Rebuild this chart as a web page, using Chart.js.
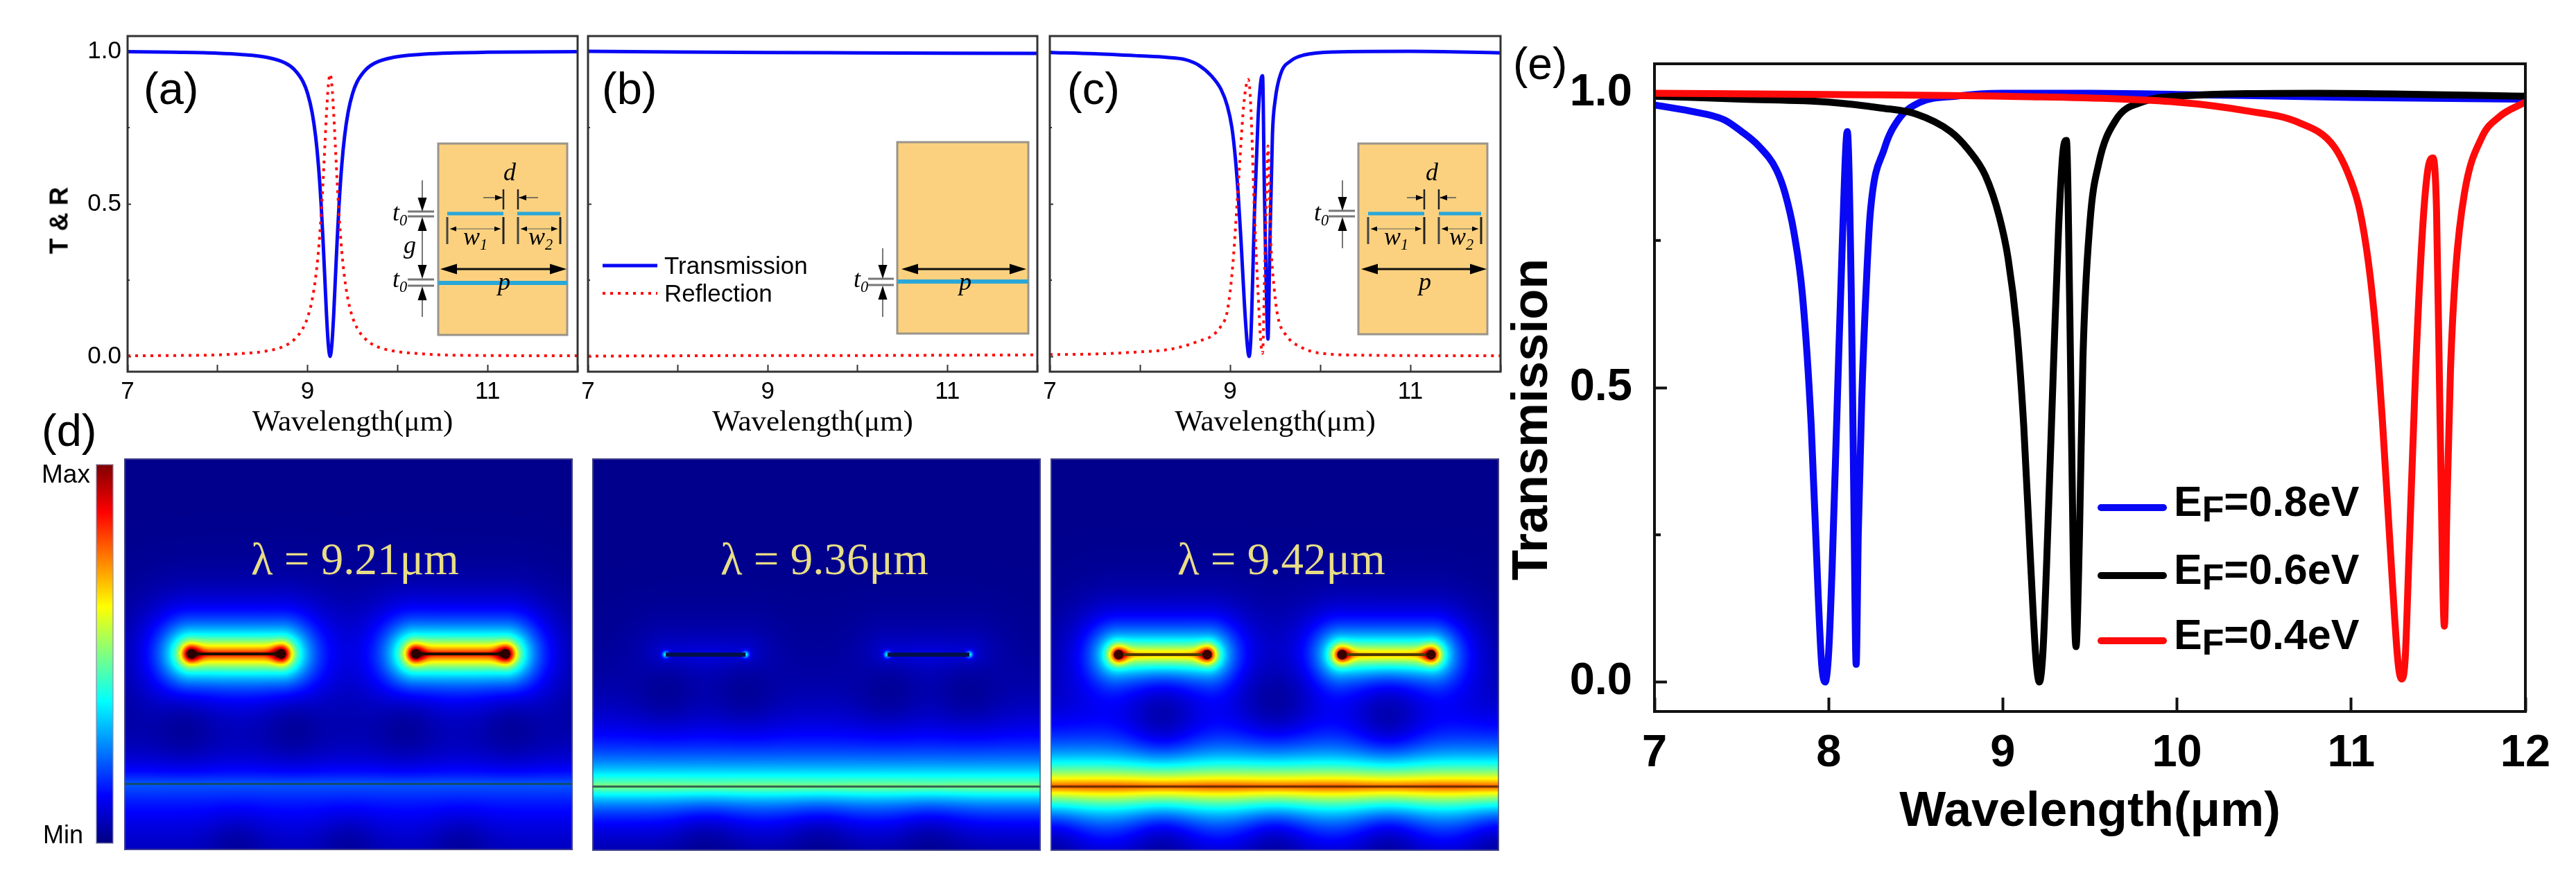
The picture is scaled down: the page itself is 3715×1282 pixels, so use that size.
<!DOCTYPE html>
<html><head><meta charset="utf-8">
<script src="https://cdn.jsdelivr.net/npm/chart.js@4"></script>
<style>
html,body{margin:0;padding:0;background:#fff}
#page{position:relative;width:3715px;height:1282px;overflow:hidden;background:#fff}
canvas{position:absolute}
.t{position:absolute;white-space:nowrap;line-height:1;color:#000}
sub{font-size:.62em;vertical-align:baseline;position:relative;top:.3em;line-height:0}
</style></head><body><div id="page"><canvas id="decor" width="3715" height="1282" style="left:0;top:0"></canvas></div>
<script>
// ---------- chart data ----------
const xTicks = [7,8,9,10,11,12];
const xLabelsSmall = [7,9,11];
const xLabelsLarge = [7,8,9,10,11,12];
const yTicks = [0,0.5,1];
const yMinor = [0.25,0.75];

const aX = [7,7.5,8,8.25,8.55,8.75,8.85,8.95,9,9.05,9.09,9.12,9.15,9.17,9.19,9.21,9.23,9.25,9.27,9.29,9.31,9.33,9.35,9.38,9.41,9.45,9.5,9.55,9.65,9.75,9.95,10.25,10.5,11,12];
const aT = [.999,.997,.994,.99,.98,.962,.941,.9,.862,.8,.719,.628,.5,.39,.265,.138,.04,0,.04,.138,.265,.39,.5,.628,.719,.8,.862,.9,.941,.962,.98,.99,.994,.997,.999];
const aR = [.002,.003,.005,.009,.018,.035,.055,.093,.128,.185,.26,.344,.462,.564,.68,.797,.888,.925,.888,.797,.68,.564,.462,.344,.26,.185,.128,.093,.055,.035,.018,.009,.005,.003,.002];

const bX = [7,8,9,10,11,12];
const bT = [1,.998,.996,.995,.994,.993];
const bR = [.001,.002,.003,.003,.004,.005];

const cTX = [7,7.5,8,8.3,8.5,8.65,8.79,8.9,8.97,9.02,9.06,9.09,9.12,9.16,9.19,9.21,9.23,9.25,9.27,9.31,9.34,9.36,9.38,9.4,9.42,9.44,9.47,9.5,9.56,9.68,9.82,10.15,11,12];
const cT  = [.996,.992,.985,.98,.973,.955,.92,.875,.82,.75,.645,.53,.385,.166,.04,0,.06,.25,.47,.78,.9,.92,.55,.24,.057,.35,.73,.84,.925,.97,.988,.998,1,.995];
const cRX = [7,7.5,8,8.3,8.5,8.65,8.79,8.9,8.97,9.03,9.09,9.15,9.18,9.2,9.22,9.24,9.27,9.31,9.34,9.36,9.385,9.405,9.42,9.45,9.49,9.53,9.62,9.79,9.97,10.5,12];
const cR  = [.006,.008,.015,.022,.035,.05,.066,.1,.15,.3,.56,.82,.89,.908,.87,.74,.47,.21,.05,.01,.3,.55,.69,.385,.22,.13,.07,.03,.012,.004,.002];

const eBlueX = [7,7.2,7.4,7.5,7.6,7.7,7.75,7.8,7.85,7.9,7.94,7.96,7.98,8,8.02,8.05,8.08,8.107,8.13,8.145,8.158,8.17,8.19,8.22,8.24,8.32,8.4,8.52,8.73,9,9.5,10,11,12];
const eBlue  = [.98,.97,.955,.935,.91,.87,.83,.765,.656,.435,.147,.03,0,.05,.195,.48,.76,.935,.66,.3,.03,.25,.48,.7,.8,.906,.955,.984,.995,1,1,.998,.993,.99];
const eBlackX = [7,7.5,8,8.3,8.5,8.7,8.8,8.9,8.98,9.03,9.08,9.12,9.16,9.19,9.21,9.23,9.25,9.29,9.32,9.345,9.365,9.385,9.405,9.42,9.44,9.46,9.5,9.55,9.65,9.8,10,10.8,12];
const eBlack  = [.995,.99,.985,.975,.965,.935,.905,.86,.79,.72,.6,.435,.2,.04,0,.05,.19,.53,.77,.9,.92,.62,.2,.06,.25,.55,.78,.88,.955,.985,.995,1,.995];
const eRedX = [7,8,9,10,10.4,10.7,10.9,11,11.05,11.1,11.14,11.18,11.23,11.27,11.29,11.31,11.33,11.37,11.41,11.44,11.47,11.49,11.51,11.535,11.55,11.57,11.6,11.65,11.75,11.85,12];
const eRed  = [1,.998,.995,.985,.97,.95,.91,.85,.8,.71,.6,.44,.2,.03,.005,.04,.2,.53,.77,.87,.89,.8,.45,.095,.3,.53,.7,.83,.925,.96,.985];

// field-map features for panel (d): rods, bright layer and dark nodes, in panel fractions
const rodsD1 = [[.15,.35],[.65,.85]];
const rodsD2 = [[.164,.342],[.658,.841]];
const rodsD3 = [[.152,.349],[.65,.848]];
const nodesD1 = [[.133,.69],[.377,.69],[.627,.69],[.864,.69],[.25,.995],[.5,.995],[.75,.995]];
const nodesD2 = [[.164,.592],[.342,.592],[.658,.592],[.841,.592],[.256,1],[.507,1],[.754,1]];
const nodesD3 = [[.25,.656],[.753,.656],[.5,.62],[0,1],[.25,1],[.5,1],[.753,1],[1,1]];

// ---------- helpers ----------
const page = document.getElementById('page');
const SANS='"Liberation Sans",Arial,sans-serif', SERIF='"Liberation Serif","Times New Roman",serif';
function text(html,x,base,size,opt={}){
  const d=document.createElement('div');d.className='t';d.innerHTML=html;
  d.style.left=x+'px';d.style.top=(base-.8375*size)+'px';
  d.style.fontSize=size+'px';d.style.fontFamily=opt.family||SANS;
  if(opt.bold)d.style.fontWeight='bold';if(opt.italic)d.style.fontStyle='italic';
  if(opt.color)d.style.color=opt.color;
  if(opt.spacing)d.style.letterSpacing=opt.spacing+'px';
  page.appendChild(d);return d;
}
function vtext(str,cx,cy,size,opt={}){
  const d=text(str,0,0,size,opt);
  d.style.left=cx+'px';d.style.top=cy+'px';
  d.style.transform='translate(-50%,-50%) rotate(-90deg)';
}
const pts=(xs,ys)=>xs.map((x,i)=>({x,y:ys[i]}));
const frameAndMinor={id:'frameAndMinor',afterDraw(c,a,o){
  const {left,right,top,bottom}=c.chartArea,g=c.ctx,y=c.scales.y;
  g.save();g.strokeStyle=o.color;g.lineWidth=o.width;
  g.strokeRect(left,top,right-left,bottom-top);
  g.lineWidth=o.tickWidth;g.beginPath();
  yMinor.forEach(v=>{const p=y.getPixelForValue(v);g.moveTo(left,p);g.lineTo(left+o.minorLen,p);});
  g.stroke();g.restore();
}};
function lineChart(box,axisW,axisH,rightPad,datasets,st){
  const cv=document.createElement('canvas');
  const W=box.r-box.l+axisW+rightPad,H=box.b-box.t+8+axisH;
  cv.width=W;cv.height=H;cv.style.left=(box.l-axisW)+'px';cv.style.top=(box.t-8)+'px';
  page.appendChild(cv);
  return new Chart(cv,{type:'line',data:{datasets},plugins:[frameAndMinor],options:{
    responsive:false,animation:false,devicePixelRatio:1,parsing:false,normalized:true,
    layout:{autoPadding:false,padding:{top:8,right:rightPad,left:0,bottom:0}},
    elements:{point:{radius:0},line:{cubicInterpolationMode:'monotone',capBezierPoints:true,borderJoinStyle:'round'}},
    plugins:{legend:{display:false},title:{display:false},tooltip:{enabled:false},
      frameAndMinor:{color:st.frame,width:st.frameW,tickWidth:st.tickW,minorLen:st.minorLen}},
    scales:{
      x:{type:'linear',min:7,max:12,afterBuildTicks:s=>{s.ticks=xTicks.map(value=>({value}))},
        afterFit:s=>{s.height=axisH;s.paddingLeft=0;s.paddingRight=0},border:{display:false},
        grid:{drawOnChartArea:false,drawTicks:true,tickLength:-st.xTick,tickColor:st.frame,tickWidth:st.tickW},
        ticks:{autoSkip:false,maxRotation:0,padding:st.xTick+st.xPad,color:'#000',font:{family:SANS,size:st.font,weight:st.weight},
          callback:v=>st.xLabels.includes(v)?String(v):''},
        title:{display:true,text:'Wavelength(μm)',color:'#000',padding:0,font:{family:st.titleFamily,size:st.titleSize,weight:st.weight,lineHeight:1.2}}},
      y:{type:'linear',min:-.05,max:1.05,afterBuildTicks:s=>{s.ticks=yTicks.map(value=>({value}))},
        afterFit:s=>{s.width=axisW;s.paddingTop=0;s.paddingBottom=0},border:{display:false},
        grid:{drawOnChartArea:false,drawTicks:true,tickLength:-st.yTick,tickColor:st.frame,tickWidth:st.tickW},
        ticks:{autoSkip:false,padding:st.yTick+st.yPad,color:'#000',display:st.yLabels,font:{family:SANS,size:st.font,weight:st.weight},
          callback:v=>v.toFixed(1)}}
    }}});
}
const small={frame:'#333',frameW:3,tickW:2,minorLen:3,xTick:10,yTick:5,font:35,weight:'normal',xPad:8,yPad:9,
  xLabels:xLabelsSmall,titleFamily:SERIF,titleSize:43,yLabels:true};
const BLUE='#0808f4',RED='#ff0a0a',BLACK='#000';
const tLine=(d)=>({data:d,borderColor:BLUE,borderWidth:5,order:1});
const rLine=(d)=>({data:d,borderColor:RED,borderWidth:4,borderDash:[4,7],order:0});
lineChart({l:184,r:833,t:52,b:536},122,100,12,[tLine(pts(aX,aT)),rLine(pts(aX,aR))],small);
lineChart({l:848,r:1496,t:52,b:536},20,100,12,[tLine(pts(bX,bT)),rLine(pts(bX,bR))],{...small,yLabels:false});
lineChart({l:1514,r:2164,t:52,b:536},20,100,12,[tLine(pts(cTX,cT)),rLine(pts(cRX,cR))],{...small,yLabels:false});
const eStyle={frame:'#111',frameW:4,tickW:4,minorLen:9,xTick:20,yTick:18,font:65,weight:'bold',xPad:22,yPad:32,
  xLabels:xLabelsLarge,titleFamily:SANS,titleSize:71,yLabels:true};
lineChart({l:2386,r:3642,t:92,b:1026},150,188,60,[
  {data:pts(eBlueX,eBlue),borderColor:BLUE,borderWidth:10,order:3},
  {data:pts(eBlackX,eBlack),borderColor:BLACK,borderWidth:10,order:2},
  {data:pts(eRedX,eRed),borderColor:RED,borderWidth:10,order:1}],eStyle);

// ---------- field maps of panel (d) ----------
const jet=t=>{const c=v=>Math.max(0,Math.min(1,v))*255;return [c(1.5-Math.abs(4*t-3)),c(1.5-Math.abs(4*t-2)),c(1.5-Math.abs(4*t-1))]};
const fieldPlugin={id:'field',beforeDatasetsDraw(c,a,o){
  const {left,top,width,height}=c.chartArea,sx=c.scales.x,sy=c.scales.y;
  const img=c.ctx.createImageData(Math.ceil(width),Math.ceil(height)),D=img.data;
  const rods=o.rods.map(r=>[sx.getPixelForValue(r[0]),sx.getPixelForValue(r[1])]);
  const rodY=sy.getPixelForValue(o.rodV),bandY=sy.getPixelForValue(o.bandV);
  const nodes=o.nodes.map(n=>[sx.getPixelForValue(n[0]),sy.getPixelForValue(n[1])]);
  let k=0;
  for(let j=0;j<img.height;j++){const py=top+j+.5;
    for(let i=0;i<img.width;i++){const px=left+i+.5;
      let v=o.base;
      for(const r of rods){
        const dx=px<r[0]?r[0]-px:(px>r[1]?px-r[1]:0),dy=py-rodY,d=Math.hypot(dx,dy);
        v+=o.rodA*Math.exp(-d/o.rodLen);
        for(const e of r){const q=Math.hypot(px-e,dy);v+=o.endB*Math.exp(-(q*q)/(o.endR*o.endR));}
      }
      const bd=py-bandY;
      v+=o.bandA*Math.exp(-Math.abs(bd)/(bd<0?o.bandUp:o.bandDown));
      for(const n of nodes){const q=(px-n[0])**2+(py-n[1])**2;v*=1-o.nodeF*Math.exp(-q/(2*o.nodeR*o.nodeR));}
      const col=jet(v);
      D[k++]=col[0];D[k++]=col[1];D[k++]=col[2];D[k++]=255;
    }}
  c.ctx.putImageData(img,left,top);
},afterDraw(c){const {left,top,width,height}=c.chartArea,g=c.ctx;
  g.save();g.strokeStyle='rgba(90,90,130,.7)';g.lineWidth=2;g.strokeRect(left+1,top+1,width-2,height-2);g.restore();}};
function fieldChart(box,rods,nodes,cfg,rodCol,rodW,dotR,dotCol,lineCol){
  const cv=document.createElement('canvas');cv.width=box.r-box.l;cv.height=box.b-box.t;
  cv.style.left=box.l+'px';cv.style.top=box.t+'px';page.appendChild(cv);
  const rodSets=rods.map(r=>({data:[{x:r[0],y:cfg.rodV},{x:r[1],y:cfg.rodV}],showLine:true,borderColor:rodCol,borderWidth:rodW,pointRadius:dotR,pointBackgroundColor:dotCol,pointBorderWidth:0}));
  new Chart(cv,{type:'scatter',plugins:[fieldPlugin],data:{datasets:[...rodSets,
    {data:[{x:0,y:cfg.bandV},{x:1,y:cfg.bandV}],showLine:true,borderColor:lineCol,borderWidth:3,pointRadius:0}
  ]},options:{responsive:false,animation:false,devicePixelRatio:1,parsing:false,
    layout:{autoPadding:false,padding:0},
    plugins:{legend:{display:false},tooltip:{enabled:false},field:{...cfg,rods,nodes}},
    scales:{x:{type:'linear',min:0,max:1,display:false},y:{type:'linear',min:0,max:1,reverse:true,display:false}}}});
}
fieldChart({l:179,r:826,t:661,b:1226},rodsD1,nodesD1,
 {base:.012,rodV:.499,rodA:.88,rodLen:32,endB:.32,endR:13,bandV:.831,bandA:.2,bandUp:34,bandDown:70,nodeF:.55,nodeR:30},
 '#1a1000',4,7,'#2a0000','#124a70');
fieldChart({l:854,r:1501,t:661,b:1227},rodsD2,nodesD2,
 {base:.012,rodV:.5,rodA:.09,rodLen:30,endB:.36,endR:5,bandV:.836,bandA:.5,bandUp:50,bandDown:36,nodeF:.6,nodeR:34},
 '#02104a',6,0,'#000','#355f50');
fieldChart({l:1515,r:2162,t:661,b:1227},rodsD3,nodesD3,
 {base:.012,rodV:.5,rodA:.72,rodLen:30,endB:.34,endR:13,bandV:.836,bandA:.8,bandUp:44,bandDown:42,nodeF:.62,nodeR:36},
 '#4d3a00',4,7,'#3a0000','#6b3000');

// ---------- schematic insets and static marks ----------
const g=document.getElementById('decor').getContext('2d');
const SAND='#fbd17f',EDGE='#9a948a',CYAN='#2aa7d8';
function ln(x1,y1,x2,y2,w=2,c='#222'){g.strokeStyle=c;g.lineWidth=w;g.beginPath();g.moveTo(x1,y1);g.lineTo(x2,y2);g.stroke();}
function head(x,y,dx,dy,len,hw){g.fillStyle='#000';g.beginPath();g.moveTo(x,y);
  g.lineTo(x-dx*len-dy*hw,y-dy*len-dx*hw);g.lineTo(x-dx*len+dy*hw,y-dy*len+dx*hw);g.closePath();g.fill();}
function box(l,r,t,b){g.fillStyle=SAND;g.fillRect(l,t,r-l,b-t);g.strokeStyle=EDGE;g.lineWidth=3;g.strokeRect(l,t,r-l,b-t);}
function seg(l,r,y,w=5){g.fillStyle=CYAN;g.fillRect(l,y-w/2,r-l,w);}
function stack(x1,x2,y1,y2){ln(x1,y1,x2,y1,3,'#777');ln(x1,y2,x2,y2,3,'#777');}
function vArrowDown(x,from,tip){ln(x,from,x,tip-14,2,'#777');head(x,tip,0,1,20,6.5);}
function vArrowUp(x,from,tip){ln(x,from,x,tip+14,2,'#777');head(x,tip,0,-1,20,6.5);}
function twin(x0,x1,y,w0,w1,top,bot){
  ln(x0,top,x0,bot,3,'#444');ln(x1,top,x1,bot,3,'#222');
  ln(x0+4,y,x1-4,y,2,'#a99a70');head(x0+4,y,-1,0,9,3.5);head(x1-4,y,1,0,9,3.5);}
function dMark(x0,x1,top,bot,y,ext){ln(x0,top,x0,bot,2.5,'#222');ln(x1,top,x1,bot,2.5,'#222');
  ln(x0-ext,y,x0,y,1.5,'#555');ln(x1,y,x1+ext,y,1.5,'#555');head(x0-1,y,1,0,11,4);head(x1+1,y,-1,0,11,4);}
function pArrow(x0,x1,y){ln(x0+10,y,x1-10,y,3,'#111');head(x0,y,-1,0,24,7.5);head(x1,y,1,0,24,7.5);}
// (a)
box(632,818,207,483);seg(645,726,308);seg(746,808,308);seg(632,818,408,6);
stack(588,626,305,312);stack(588,626,403,412);
vArrowDown(609,260,305);vArrowUp(609,358,313);vArrowDown(609,338,402);vArrowUp(609,457,413);
dMark(726,747,273,302,285,29);
twin(645,726,330,0,0,313,352);twin(747,808,330,0,0,313,352);pArrow(635,817,388);
// (b)
box(1294,1483,205,481);seg(1294,1483,406,6);
stack(1252,1289,402,411);vArrowDown(1273,358,402);vArrowUp(1273,457,412);pArrow(1300,1480,388);
// (c)
box(1959,2145,207,482);seg(1973,2054,308);seg(2075,2136,308);
stack(1916,1954,304,312);vArrowDown(1936,260,304);vArrowUp(1936,358,313);
dMark(2054,2075,273,302,285,25);twin(1973,2054,330,0,0,313,352);twin(2075,2136,330,0,0,313,352);pArrow(1963,2144,388);
// legend samples
ln(869,383,948,383,5,BLUE);
g.setLineDash([4,7]);ln(869,423,948,423,4,RED);g.setLineDash([]);
g.lineCap='round';ln(3030,732,3120,732,10,BLUE);ln(3030,830,3120,830,10,BLACK);ln(3030,924,3120,924,10,RED);g.lineCap='butt';
// colour bar
const cb=g.createLinearGradient(0,1216,0,670);
for(let i=0;i<=16;i++){const c=jet(i/16);cb.addColorStop(i/16,`rgb(${c[0]},${c[1]},${c[2]})`);}
g.fillStyle=cb;g.fillRect(139,670,24,546);g.strokeStyle='rgba(140,140,170,.6)';g.lineWidth=2;g.strokeRect(139,670,24,546);

// ---------- text ----------
[['(a)',207],['(b)',868],['(c)',1539]].forEach(([s,x])=>text(s,x,149,65));
text('(d)',60,642,65);text('(e)',2182,114,64);
vtext('T &amp; R',85,318,37,{bold:true});
vtext('Transmission',2206,605,72,{bold:true});
text('Transmission',958,394,35);text('Reflection',958,434,35);
text('Max',60,696,37);text('Min',62,1216,36);
const LC='#e8dd85';
text('λ = 9.21μm',362,828,65,{family:SERIF,color:LC});
text('λ = 9.36μm',1039,828,65,{family:SERIF,color:LC});
text('λ = 9.42μm',1698,828,65,{family:SERIF,color:LC});
[['0.8',744],['0.6',842],['0.4',936]].forEach(([v,b])=>text(`E<sub style="font-size:.85em;top:.16em">F</sub>=${v}eV`,3135,b,61,{bold:true}));
const it={family:SERIF,italic:true};
const sym=(h,x,b,s=36)=>text(h,x,b,s,it);
// (a)
sym('t<sub>0</sub>',566,318);sym('t<sub>0</sub>',566,414);sym('g',582,365);
sym('d',726,260);sym('w<sub>1</sub>',668,353);sym('w<sub>2</sub>',762,353);sym('p',718,418);
// (b)
sym('t<sub>0</sub>',1231,414);sym('p',1383,418);
// (c)
sym('t<sub>0</sub>',1895,318);sym('d',2056,260);sym('w<sub>1</sub>',1996,353);sym('w<sub>2</sub>',2090,353);sym('p',2046,418);
</script></body></html>
